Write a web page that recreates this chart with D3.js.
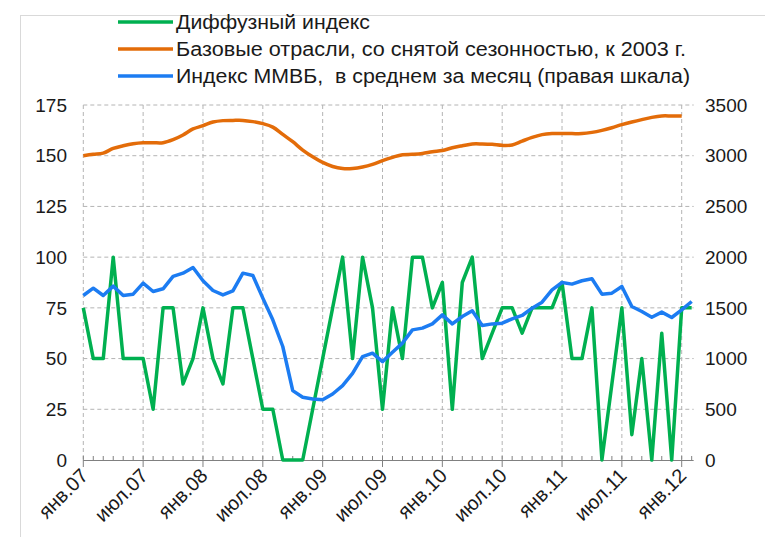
<!DOCTYPE html>
<html><head><meta charset="utf-8">
<script src="https://cdn.jsdelivr.net/npm/d3@7"></script>
<style>body{margin:0;background:#fff}svg{display:block;font-family:"Liberation Sans",Arial,sans-serif}</style>
</head><body><svg id="c" width="765" height="537"></svg>
<script>
const seriesNames = ["Диффузный индекс","Базовые отрасли, со снятой сезонностью, к 2003 г.","Индекс ММВБ,  в среднем за месяц (правая шкала)"];
const xTickLabels = ["янв.07","июл.07","янв.08","июл.08","янв.09","июл.09","янв.10","июл.10","янв.11","июл.11","янв.12"];
const leftTicks = [0,25,50,75,100,125,150,175];
const rightTicks = [0,500,1000,1500,2000,2500,3000,3500];
// monthly Jan 2007 .. Feb 2012
const diffusion = [75,50,50,100,50,50,50,25,75,75,37.5,50,75,50,37.5,75,75,50,25,25,0,0,0,25,50,75,100,50,100,75,25,75,50,100,100,75,87.5,25,87.5,100,50,62.5,75,75,62.5,75,75,75,87.5,50,50,75,0,37.5,75,12.5,50,0,62.5,0,75,75];
// monthly Jan 2007 .. Jan 2012
const baseIndustries = [150,150.7,151.3,153.6,154.9,155.9,156.4,156.4,156.4,157.9,160.2,163.2,164.8,166.6,167.3,167.4,167.4,166.8,165.8,164.1,160.5,156.9,152.8,149.5,146.7,144.7,143.7,143.7,144.4,145.7,147.6,149.2,150.5,150.7,151.1,152,152.6,153.9,154.9,155.8,155.8,155.6,155.1,155.3,157.2,159,160.4,160.9,160.9,160.9,160.9,161.5,162.5,163.8,165.3,166.6,167.8,168.9,169.6,169.6,169.6];
// monthly Jan 2007 .. Feb 2012
const micex = [1622,1694,1622,1714,1622,1635,1744,1661,1688,1810,1842,1898,1767,1671,1628,1668,1842,1819,1596,1382,1119,684,618,602,595,651,734,855,1020,1053,970,1063,1152,1283,1300,1342,1431,1342,1415,1471,1326,1342,1349,1392,1425,1497,1556,1678,1750,1734,1767,1787,1635,1645,1711,1513,1464,1408,1458,1405,1480,1563];
const colors = ["#00b050","#e36c09","#1c7cf2"];
const legendWidths = [194,510,514];

const svg = d3.select("#c");
svg.append("rect").attr("x",20.5).attr("y",15.5).attr("width",800).attr("height",600)
  .attr("fill","none").attr("stroke","#d9d9d9");

const x = d3.scaleLinear().domain([0,60]).range([83.3,681.7]);
const yL = d3.scaleLinear().domain([0,175]).range([460,105]);
const yR = d3.scaleLinear().domain([0,3500]).range([460,105]);
const xEnd = x(61.2);

// gridlines
const g = svg.append("g");
g.selectAll("line.h").data(leftTicks.filter(d=>d>0)).join("line")
  .attr("x1",x(0)).attr("x2",xEnd).attr("y1",d=>yL(d)).attr("y2",d=>yL(d))
  .attr("stroke","#b4b4b4").attr("stroke-dasharray","4,3").attr("stroke-width",1);
g.selectAll("line.v").data(xTickLabels.map((d,i)=>i*6)).join("line")
  .attr("x1",d=>x(d)).attr("x2",d=>x(d)).attr("y1",yL(175)).attr("y2",yL(0))
  .attr("stroke","#b4b4b4").attr("stroke-dasharray","4,3").attr("stroke-width",1);

// x axis
const xa = svg.append("g");
xa.append("line").attr("x1",x(0)).attr("x2",xEnd).attr("y1",yL(0)+0.5).attr("y2",yL(0)+0.5).attr("stroke","#808080");
xa.selectAll("line.m").data(d3.range(0,62)).join("line")
  .attr("x1",d=>x(d)).attr("x2",d=>x(d))
  .attr("y1",d=>yL(0)-4).attr("y2",d=>d%6===0?yL(0)+7:yL(0)+0.5)
  .attr("stroke","#808080");
xa.selectAll("text").data(xTickLabels).join("text")
  .attr("transform",(d,i)=>`translate(${x(i*6)+6},${yL(0)+17}) rotate(-45)`)
  .attr("text-anchor","end").attr("font-size",20).attr("fill","#1a1a1a").text(d=>d);

// y labels
svg.append("g").selectAll("text").data(leftTicks).join("text")
  .attr("x",67).attr("y",d=>yL(d)).attr("dy","0.35em").attr("text-anchor","end")
  .attr("font-size",19).attr("fill","#1a1a1a").text(d=>d);
svg.append("g").selectAll("text").data(rightTicks).join("text")
  .attr("x",705).attr("y",d=>yR(d)).attr("dy","0.35em").attr("text-anchor","start")
  .attr("font-size",19).attr("fill","#1a1a1a").text(d=>d);

// lines
const lineL = d3.line().x((d,i)=>x(i)).y(d=>yL(d));
const lineSmooth = d3.line().x((d,i)=>x(i)).y(d=>yL(d)).curve(d3.curveCatmullRom.alpha(0.5));
const lineR = d3.line().x((d,i)=>x(i)).y(d=>yR(d));
svg.append("path").attr("d",lineSmooth(baseIndustries)).attr("fill","none").attr("stroke",colors[1]).attr("stroke-width",3.5).attr("stroke-linejoin","round");
svg.append("path").attr("d",lineL(diffusion)).attr("fill","none").attr("stroke",colors[0]).attr("stroke-width",3.5).attr("stroke-linejoin","round");
svg.append("path").attr("d",lineR(micex)).attr("fill","none").attr("stroke",colors[2]).attr("stroke-width",3.5).attr("stroke-linejoin","round");

// legend
const lg = svg.append("g");
seriesNames.forEach((n,i)=>{
  const yy = 22 + i*27;
  lg.append("line").attr("x1",118).attr("x2",173).attr("y1",yy).attr("y2",yy).attr("stroke",colors[i]).attr("stroke-width",3.5);
  lg.append("text").attr("x",176).attr("y",yy).attr("dy","0.36em").attr("font-size",20)
    .style("white-space","pre").attr("textLength",legendWidths[i]).attr("lengthAdjust","spacingAndGlyphs")
    .attr("fill","#1a1a1a").text(n);
});
</script></body></html>
